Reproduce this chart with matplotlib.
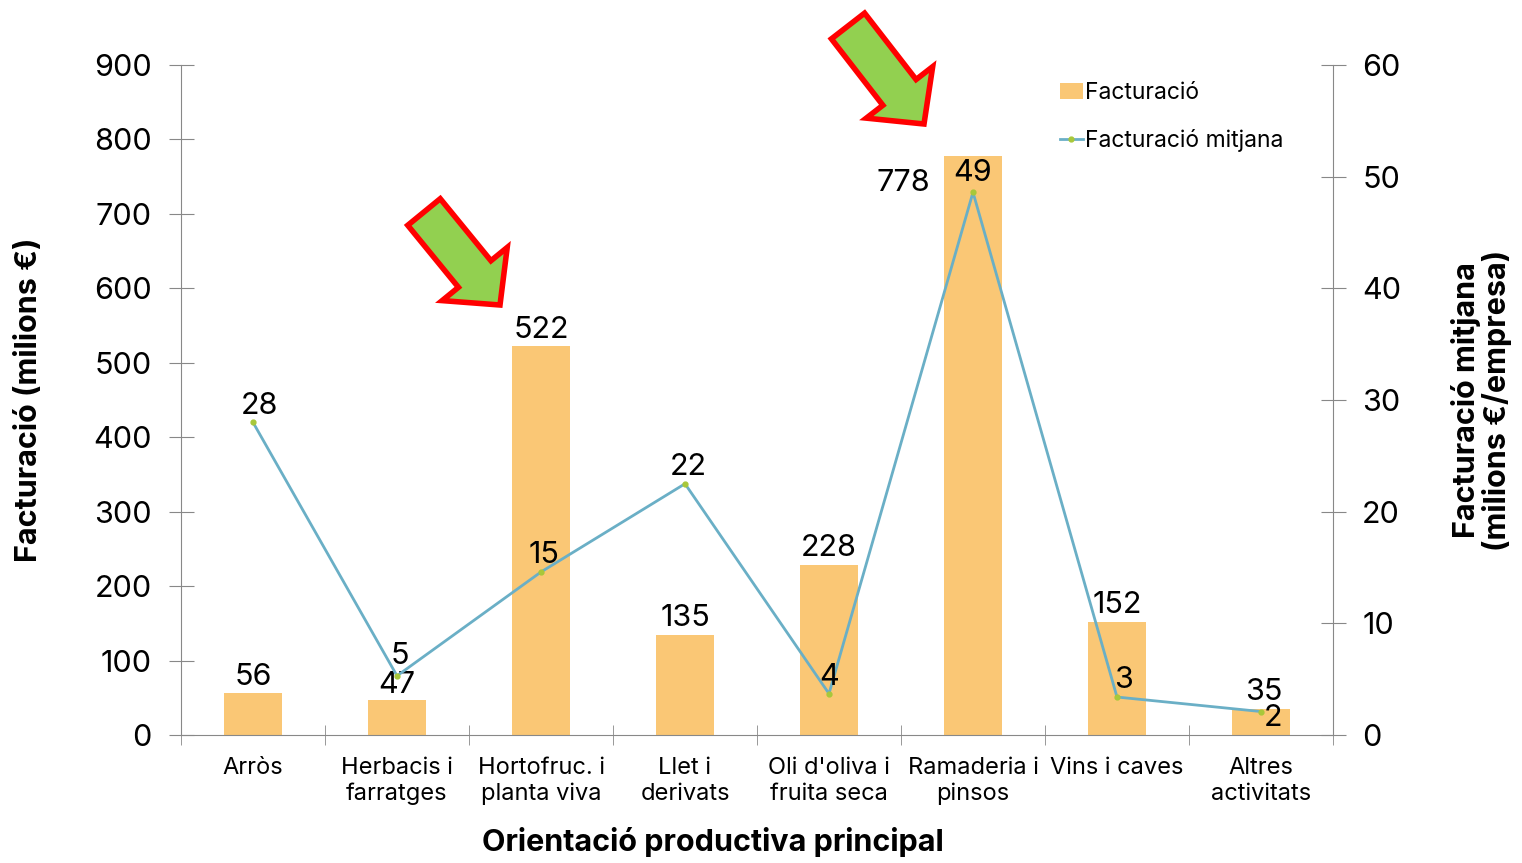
import matplotlib.pyplot as plt
import numpy as np
from matplotlib.patches import Polygon

plt.rcParams['font.family'] = ['Inter', 'DejaVu Sans']

categories = ["Arròs", "Herbacis i\nfarratges", "Hortofruc. i\nplanta viva", "Llet i\nderivats",
              "Oli d'oliva i\nfruita seca", "Ramaderia i\npinsos", "Vins i caves", "Altres\nactivitats"]
facturacio = [56, 47, 522, 135, 228, 778, 152, 35]
mitjana = [28.0, 5.3, 14.6, 22.5, 3.7, 48.6, 3.4, 2.1]
mitjana_labels = [28, 5, 15, 22, 4, 49, 3, 2]

barColor = "#FAC775"
lineColor = "#6AAFC6"
axisColor = "#888888"

fig = plt.figure(figsize=(15.22, 8.63), dpi=100)
ax = fig.add_axes([181 / 1522, 1 - 735 / 863, (1333 - 181) / 1522, (735 - 65) / 863])
ax2 = ax.twinx()

x = list(range(len(categories)))
bars = ax.bar(x, facturacio, width=0.4, color=barColor, label="Facturació", zorder=2)
line, = ax2.plot(x, mitjana, color=lineColor, linewidth=2, marker="o", markersize=3.5,
                 markerfacecolor="#A8C83A", markeredgecolor="#A8C83A", label="Facturació mitjana", zorder=3)
ax2.set_zorder(ax.get_zorder() + 1)
ax2.patch.set_visible(False)

ax.set_xlim(-0.5, len(categories) - 0.5)
ax.set_ylim(0, 900)
ax2.set_ylim(0, 60)
ax.set_yticks(range(0, 901, 100))
ax2.set_yticks(range(0, 61, 10))

ax.set_xticks(x)
ax.set_xticklabels(categories, fontsize=17, linespacing=1.2)
ax.set_xticks([i + 0.5 for i in range(-1, len(categories))], minor=True)
ax.tick_params(axis="x", which="major", length=0, pad=16)
ax.tick_params(axis="x", which="minor", length=14, direction="inout", color=axisColor)
ax.tick_params(axis="y", labelsize=22, length=18, direction="inout", color=axisColor, pad=12)
ax2.tick_params(axis="y", labelsize=22, length=18, direction="inout", color=axisColor, pad=12)

for a in (ax, ax2):
    a.spines["top"].set_visible(False)
    for s in ("left", "right", "bottom"):
        a.spines[s].set_color(axisColor)
ax2.spines["left"].set_visible(False)
ax2.spines["bottom"].set_visible(False)
ax.spines["right"].set_visible(False)

ax.set_xlabel("Orientació productiva principal", fontsize=22, fontweight="bold")
ax.xaxis.set_label_coords(0.462, -0.138)
ax.set_ylabel("Facturació (milions €)", fontsize=22, fontweight="bold", labelpad=36)
ax2.set_ylabel("Facturació mitjana\n(milions €/empresa)", fontsize=22, fontweight="bold",
               labelpad=36, rotation=90, linespacing=1.05)

# bar value labels (offsets in points)
barOffsets = [(0, 2), (0, 1), (0, 2), (0, 2), (0, 2), (-50, -30), (0, 2), (2, 2)]
for i, v in enumerate(facturacio):
    dx, dy = barOffsets[i]
    ax.annotate(str(v), (x[i], v), xytext=(dx, dy), textcoords="offset points",
                ha="center", va="bottom", fontsize=22, zorder=5)

lineOffsets = [(5, 2), (2, 4), (2, 2), (2, 2), (0, 2), (0, 4), (5, 2), (9, -15)]
for i, v in enumerate(mitjana):
    dx, dy = lineOffsets[i]
    ax2.annotate(str(mitjana_labels[i]), (x[i], v), xytext=(dx, dy), textcoords="offset points",
                 ha="center", va="bottom", fontsize=22, zorder=5)

ax.legend([bars, line], ["Facturació", "Facturació mitjana"], loc="upper right",
          bbox_to_anchor=(0.975, 1.005), frameon=False, fontsize=16.5, handlelength=1.0,
          handletextpad=0.1, labelspacing=1.1)

# green highlight arrows, figure pixel coordinates
def drawArrowShape(tailx, taily, tipx, tipy):
    d = np.array([tipx - tailx, tipy - taily], dtype=float)
    L = np.hypot(*d)
    u = d / L
    n = np.array([-u[1], u[0]])
    hw, sw, hl = 42, 21, 40
    base = np.array([tailx, taily], dtype=float)
    neck = base + u * (L - hl)
    tip = np.array([tipx, tipy], dtype=float)
    pts = [base + n * sw, neck + n * sw, neck + n * hw, tip, neck - n * hw, neck - n * sw, base - n * sw]
    pts = [(p[0] / 1522, 1 - p[1] / 863) for p in pts]
    fig.patches.append(Polygon(pts, closed=True, transform=fig.transFigure, facecolor="#92D050",
                               edgecolor="#FF0000", linewidth=4, joinstyle="miter", zorder=10))

drawArrowShape(424, 212, 500, 305)
drawArrowShape(848, 26, 924, 124)

fig.savefig("out.png", dpi=100)
